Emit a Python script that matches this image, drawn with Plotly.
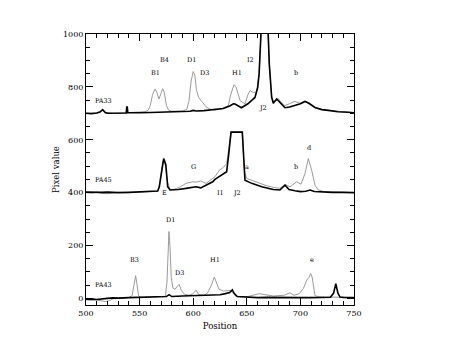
import plotly.graph_objects as go

# ── Data ──────────────────────────────────────────────────────────────────────
# PA33 (offset ~700)
pa33_black_x = [500, 505, 510, 513, 515.5, 518, 520, 525, 530, 536, 537.5, 538, 538.5, 539, 545,
                550, 560, 570, 580, 590, 597, 600, 603, 610, 620, 628, 634, 637.5, 639, 641,
                645, 651, 657.6, 660.2, 661.5, 663.2, 664, 669, 670, 671, 673.2, 674.7, 677.9,
                681, 685.6, 690, 695, 700, 704.3, 708, 713.6, 720, 726, 735, 744.7, 750]
pa33_black_y = [700, 699, 701, 705, 714, 703, 700, 700, 701, 701, 701, 724, 724, 702, 701,
                702, 703, 704, 704, 706, 708, 711, 709, 710, 715, 718, 728, 736, 735, 730,
                721, 736, 760, 798, 850, 1000, 1100, 1100, 1000, 886, 760, 738, 754,
                740, 721, 724, 729, 736, 745, 738, 722, 714, 711, 706, 704, 702]

pa33_gray_x = [500, 510, 515.5, 518, 525, 537, 540, 545, 550, 555, 558, 560, 562, 564.4, 566,
               568, 570, 571.5, 573, 575, 577, 580, 590, 594, 596, 598, 600, 601.5, 603, 605,
               608, 612, 616, 620, 626.5, 632.7, 635, 638, 640, 643.7, 648.3, 651, 653, 656,
               659, 661.5, 663.2, 664, 669, 670, 671, 673.2, 675, 677, 679.4, 682, 685.6, 690,
               695, 699.7, 704.3, 708, 713.6, 720, 726, 735, 744.7, 750]
pa33_gray_y = [700, 700, 712, 702, 700, 701, 702, 704, 705, 706, 712, 730, 770, 792, 780,
               754, 775, 793, 780, 730, 712, 708, 708, 715, 745, 820, 858, 845, 790, 760,
               745, 725, 715, 712, 717, 729, 770, 808, 800, 748, 736, 770, 786, 779,
               780, 850, 1000, 1100, 1100, 1000, 880, 765, 745, 748, 756, 742, 729, 737,
               745, 738, 746, 735, 721, 714, 711, 706, 704, 702]

# PA45 (offset ~400)
pa45_black_x = [500, 505, 510, 515, 520, 530, 540, 550, 560, 566.9, 568.4, 570, 571.5, 572.5,
                574.5, 576.2, 578.4, 580.9, 586, 593.3, 598, 602.6, 607, 612, 618.2, 620.3,
                624.4, 628, 631.2, 633, 634.5, 635.3, 645.8, 646.5, 648.3, 654.6, 663.9,
                674.7, 680.9, 685.6, 689.4, 695, 700, 705, 709, 713, 720, 730, 740, 750]
pa45_black_y = [402, 401, 402, 401, 402, 400, 401, 402, 403, 406, 422, 470, 518, 529,
                505, 422, 410, 410, 412, 416, 418, 422, 418, 428, 441, 450,
                462, 470, 479, 540, 600, 629, 629, 560, 447, 435, 422,
                412, 410, 428, 412, 407, 404, 405, 410, 404, 402, 401, 401, 400]

pa45_gray_x = [500, 505, 510, 515, 520, 525, 530, 540, 550, 560, 566.9, 568.4, 570, 571.5, 572.5,
               574, 576, 578.4, 582, 588, 593.3, 599.5, 603, 607, 612, 618.2, 620.3, 624.4,
               628, 631.2, 633, 634.5, 635.3, 645.8, 646.5, 647.7, 649.9, 657.6, 667, 674.7,
               680.9, 685.6, 690.3, 693, 696.5, 700.6, 704.3, 707.4, 710.5, 713.6, 716.7,
               722, 730, 740, 750]
pa45_gray_y = [400, 398, 401, 397, 396, 399, 401, 400, 402, 403, 406, 428, 478, 518, 524,
               505, 440, 412, 412, 422, 435, 441, 440, 444, 435, 454, 460, 485,
               495, 510, 560, 610, 629, 629, 570, 480, 454, 441, 428, 420,
               416, 431, 422, 430, 441, 432, 472, 529, 485, 428, 410,
               404, 402, 401, 400]

# PA43 (offset ~0)
pa43_black_x = [500, 505, 510, 515, 520, 525, 530, 540, 550, 560, 570, 575, 577.5, 580, 590,
                600, 610, 618, 625, 630, 634, 636.5, 638, 641, 650, 660, 670, 680, 690, 700,
                710, 720, 728, 731, 733, 735, 737, 740, 750]
pa43_black_y = [-3, -2, -4, -1, 0, 2, 1, 3, 4, 5, 6, 7, 14, 7, 9,
                11, 12, 15, 14, 18, 22, 32, 20, 7, 4, 3, 4, 3, 2, 3,
                3, 3, 4, 20, 56, 20, 5, 4, 3]

pa43_gray_x = [500, 505, 510, 515, 518, 522, 525, 530, 535, 540, 543, 545, 546.3, 547.5, 549,
               552, 560, 570, 574, 575.5, 576.5, 577.4, 578.3, 579.5, 581, 583, 585, 586.8,
               589, 592, 596, 600, 602.6, 605, 609.4, 612, 614, 617, 619.7, 622, 624, 628,
               632, 635, 638, 640, 650, 655, 661.7, 667, 675, 685, 690.3, 694, 699, 702.7,
               706, 708, 709.6, 711, 713.6, 718, 725, 730, 740, 750]
pa43_gray_y = [-5, -8, -6, -10, -12, -8, -2, 0, 2, 3, 10, 50, 86, 55, 10,
               3, 4, 5, 8, 60, 190, 253, 200, 80, 40, 34, 45, 53,
               30, 15, 12, 18, 31, 15, 11, 15, 25, 50, 81, 60, 35, 28,
               28, 30, 15, 8, 6, 10, 18, 14, 9, 12, 21, 12, 18, 37,
               70, 80, 94, 80, 10, 6, 5, 4, 4, 3]

# Feature labels: (x, y, text)
label_x = [516, 565, 572.8, 598.6, 611, 640.5, 653, 665.4, 695.6,
           516, 572.8, 600.7, 625.6, 640.5, 650.5, 695.6, 708.3,
           516, 545.7, 578.4, 587, 620.3, 710.5]
label_y = [748, 851, 901, 901, 851, 851, 901, 721, 851,
           447, 397, 497, 397, 397, 497, 497, 568,
           49, 147, 297, 97, 147, 147]
label_text = ["PA33", "B1", "B4", "D1", "D3", "H1", "I2", "J2", "b",
              "PA45", "E", "G", "I1", "J2", "a", "b", "d",
              "PA43", "B3", "D1", "D3", "H1", "e"]

# ── Style ─────────────────────────────────────────────────────────────────────
_GRAY  = "#9a9a9a"
_BLACK = "#000000"
_SERIF = "DejaVu Serif"

fig = go.Figure()

for gx, gy, bx, by in [
    (pa33_gray_x, pa33_gray_y, pa33_black_x, pa33_black_y),
    (pa45_gray_x, pa45_gray_y, pa45_black_x, pa45_black_y),
    (pa43_gray_x, pa43_gray_y, pa43_black_x, pa43_black_y),
]:
    fig.add_trace(go.Scatter(x=gx, y=gy, mode="lines",
                             line=dict(color=_GRAY, width=1), showlegend=False))
    fig.add_trace(go.Scatter(x=bx, y=by, mode="lines",
                             line=dict(color=_BLACK, width=1.6), showlegend=False))

for lx, ly, lt in zip(label_x, label_y, label_text):
    fig.add_annotation(x=lx, y=ly, text=lt, showarrow=False,
                       font=dict(family=_SERIF, size=6.5, color="#000"))

axis_common = dict(
    showline=True, linecolor="#000", linewidth=1, mirror="ticks",
    ticks="inside", ticklen=7, tickcolor="#000", tickwidth=1,
    showgrid=False, zeroline=False,
    tickfont=dict(family=_SERIF, size=8, color="#000"),
)

# page body adds an 8px offset, so margins are trimmed to land the plot box
fig.update_layout(
    width=471, height=364,
    margin=dict(l=78, r=125, t=26, b=67),
    plot_bgcolor="#fff", paper_bgcolor="#fff",
    xaxis=dict(range=[500, 750], dtick=50, tick0=500,
               minor=dict(dtick=10, ticks="inside", ticklen=4, tickcolor="#000"),
               title=dict(text="Position", font=dict(family=_SERIF, size=8.5, color="#000"), standoff=6),
               **axis_common),
    yaxis=dict(range=[-25, 1000], dtick=200, tick0=0,
               minor=dict(dtick=50, ticks="inside", ticklen=4, tickcolor="#000"),
               title=dict(text="Pixel value", font=dict(family=_SERIF, size=8.5, color="#000"), standoff=2),
               **axis_common),
)

fig.write_html("out.html")
